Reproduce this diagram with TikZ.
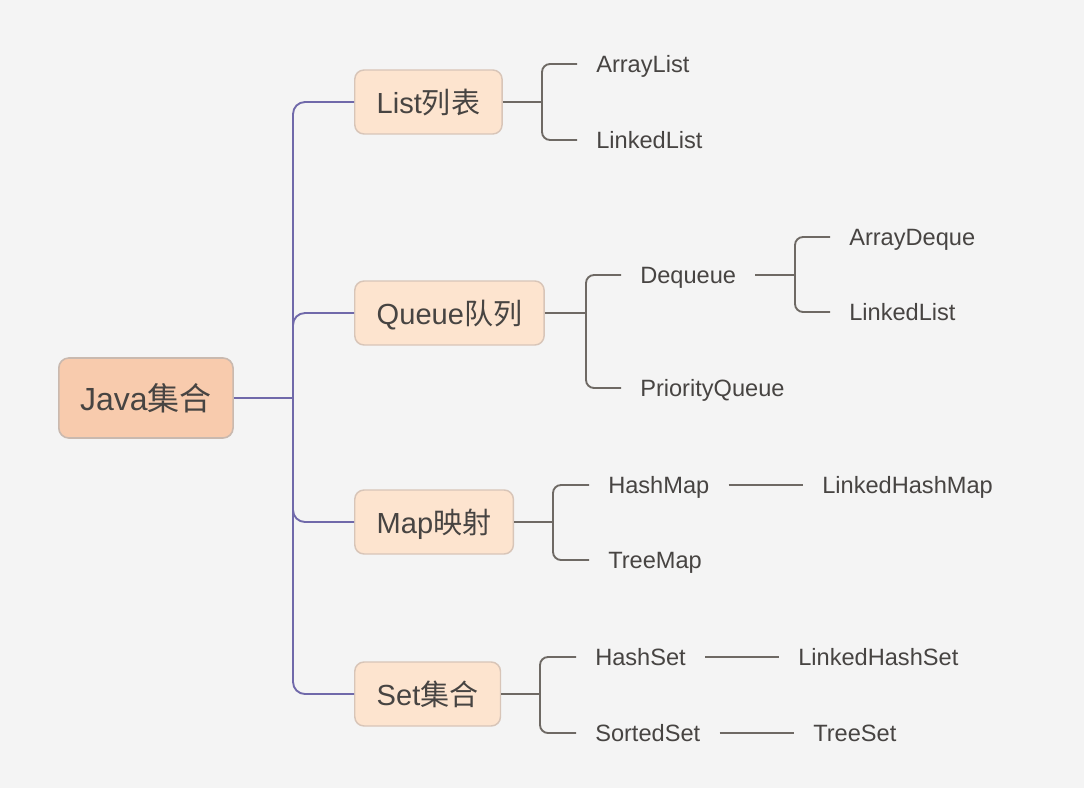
\documentclass[tikz,border=0pt]{standalone}
\usepackage{fontspec}
\setmainfont{Liberation Sans}
\newfontfamily\cjk{Noto Sans CJK SC}
\definecolor{bg}{HTML}{F4F4F4}
\definecolor{rootfill}{HTML}{F8CBAD}
\definecolor{rootdraw}{HTML}{C9B9AF}
\definecolor{topfill}{HTML}{FDE4CF}
\definecolor{topdraw}{HTML}{D8C5B8}
\definecolor{trunk}{HTML}{7069AA}
\definecolor{twig}{HTML}{6E6964}
\definecolor{ink}{HTML}{474442}

\begin{document}
\begin{tikzpicture}[x=0.75pt, y=-0.75pt,
    root/.style={draw=rootdraw, fill=rootfill, line width=1.2pt, rounded corners=7.5pt,
      minimum height=60pt, inner xsep=16pt, text=ink, anchor=west,
      text height=18.7pt, text depth=0.5pt, font=\fontsize{24}{28}\selectfont},
    topic/.style={draw=topdraw, fill=topfill, line width=1.1pt, rounded corners=7pt,
      minimum height=48pt, inner xsep=16.5pt, text=ink, anchor=west,
      text height=17pt, text depth=0.4pt, font=\fontsize{21.8}{26}\selectfont},
    leaf/.style={inner xsep=14.25pt, text=ink, anchor=west,
      text height=12.6pt, text depth=0.3pt, font=\fontsize{17.7}{21}\selectfont},
    purpleline/.style={draw=trunk, line width=1.4pt, rounded corners=9pt},
    grayline/.style={draw=twig, line width=1.4pt, rounded corners=6pt}]

        \fill[bg] (0,0) rectangle (1084,788);
        \useasboundingbox (0,0) rectangle (1084,788);

        % main boxes
        \node[root]  (java)  at (58,398)  {Java{\cjk 集合}};
        \node[topic] (list)  at (354,102) {List{\cjk 列表}};
        \node[topic] (queue) at (354,313) {Queue{\cjk 队列}};
        \node[topic] (map)   at (354,522) {Map{\cjk 映射}};
        \node[topic] (set)   at (354,694) {Set{\cjk 集合}};

        % leaves
        \node[leaf] (arraylist)     at (577,64)  {ArrayList};
        \node[leaf] (linkedlist)    at (577,140) {LinkedList};
        \node[leaf] (dequeue)       at (621,275) {Dequeue};
        \node[leaf] (priorityqueue) at (621,388) {PriorityQueue};
        \node[leaf] (arraydeque)    at (830,237) {ArrayDeque};
        \node[leaf] (dequelinked)   at (830,312) {LinkedList};
        \node[leaf] (hashmap)       at (589,485) {HashMap};
        \node[leaf] (treemap)       at (589,560) {TreeMap};
        \node[leaf] (linkedhashmap) at (803,485) {LinkedHashMap};
        \node[leaf] (hashset)       at (576,657) {HashSet};
        \node[leaf] (sortedset)     at (576,733) {SortedSet};
        \node[leaf] (linkedhashset) at (779,657) {LinkedHashSet};
        \node[leaf] (treeset)       at (794,733) {TreeSet};

        % forks
        \coordinate (stem)       at (293,398);
        \coordinate (listfork)   at (542,102);
        \coordinate (queuefork)  at (586,313);
        \coordinate (dequefork)  at (795,275);
        \coordinate (mapfork)    at (553,522);
        \coordinate (setfork)    at (540,694);

        \draw[purpleline] (java.east) -- (stem);
        \draw[purpleline] (list.west) -| (stem) |- (set.west);
        \draw[purpleline] (stem) |- (queue.west);
        \draw[purpleline] (stem) |- (map.west);

        \draw[grayline] (list.east) -- (listfork);
        \draw[grayline] (arraylist.west) -| (listfork) |- (linkedlist.west);
        \draw[grayline] (queue.east) -- (queuefork);
        \draw[grayline] (dequeue.west) -| (queuefork) |- (priorityqueue.west);
        \draw[grayline] (dequeue.east) -- (dequefork);
        \draw[grayline] (arraydeque.west) -| (dequefork) |- (dequelinked.west);
        \draw[grayline] (map.east) -- (mapfork);
        \draw[grayline] (hashmap.west) -| (mapfork) |- (treemap.west);
        \draw[grayline] (hashmap.east) -- (linkedhashmap.west);
        \draw[grayline] (set.east) -- (setfork);
        \draw[grayline] (hashset.west) -| (setfork) |- (sortedset.west);
        \draw[grayline] (hashset.east) -- (linkedhashset.west);
        \draw[grayline] (sortedset.east) -- (treeset.west);
\end{tikzpicture}
\end{document}
